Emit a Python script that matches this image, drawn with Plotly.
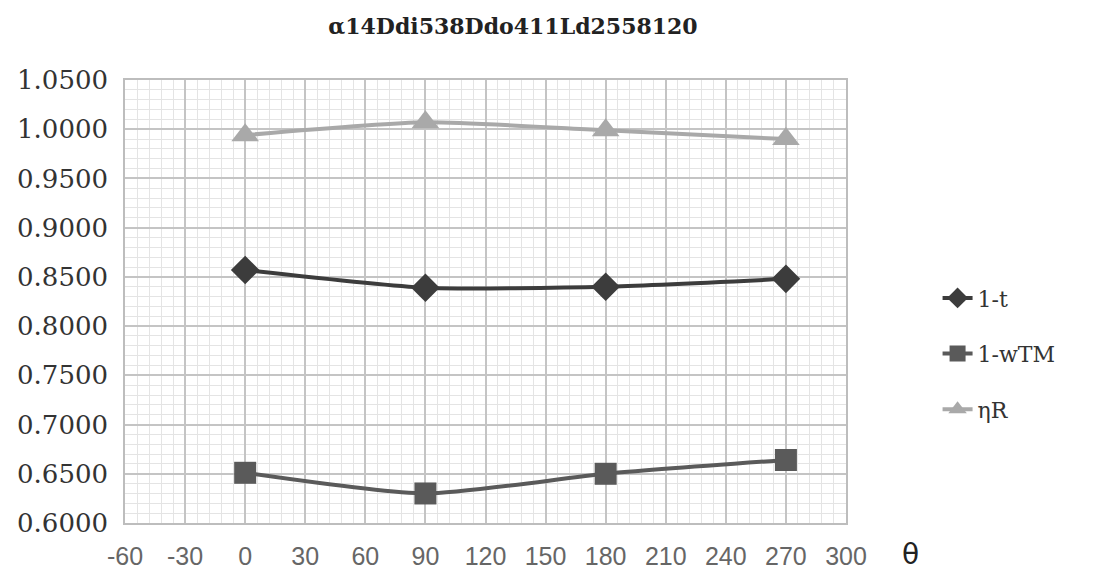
import plotly.graph_objects as go

theta = [0, 90, 180, 270]
one_minus_t = [0.857, 0.839, 0.840, 0.848]
one_minus_wtm = [0.651, 0.630, 0.650, 0.664]
eta_r = [0.994, 1.007, 0.999, 0.990]

series_names = ["1-t", "1-wTM", "ηR"]
x_ticks = list(range(-60, 301, 30))
y_ticks = [0.60, 0.65, 0.70, 0.75, 0.80, 0.85, 0.90, 0.95, 1.00, 1.05]
title_text = "α14Ddi538Ddo411Ld2558120"

fig = go.Figure()
styles = [
    (one_minus_t, "#3c3c3c", "diamond", 22),
    (one_minus_wtm, "#5a5a5a", "square", 22),
    (eta_r, "#a9a9a9", "triangle-up", 24),
]
for name, (vals, col, sym, sz) in zip(series_names, styles):
    fig.add_trace(go.Scatter(
        x=theta, y=vals, name=name, mode="lines+markers",
        line=dict(color=col, width=4, shape="spline", smoothing=0.6),
        marker=dict(symbol=sym, size=sz, color=col),
        legendgroup=name,
    ))

fig.update_layout(
    width=1087, height=570,
    margin=dict(l=117, r=249, t=72, b=55),
    paper_bgcolor="white", plot_bgcolor="white",
    title=dict(text="<b>" + title_text + "</b>", x=0.4646, xanchor="center", y=0.968, yanchor="middle",
               font=dict(family="DejaVu Serif, serif", size=22, color="#222")),
    showlegend=True,
    legend=dict(x=1.127, xanchor="left", y=0.555, yanchor="top",
                font=dict(family="DejaVu Serif, serif", size=22, color="#333"),
                tracegroupgap=24, bgcolor="rgba(0,0,0,0)"),
    annotations=[dict(text="θ", xref="paper", yref="paper", x=1.09, y=-0.072,
                      xanchor="center", yanchor="middle", showarrow=False,
                      font=dict(family="DejaVu Sans", size=28, color="#222"))],
)
fig.update_xaxes(
    range=[-60, 300], tickvals=x_ticks, ticktext=[str(v) for v in x_ticks],
    showgrid=True, gridcolor="#c4c4c4", gridwidth=1.5,
    minor=dict(dtick=6, showgrid=True, gridcolor="#e4e4e4", gridwidth=1),
    showline=True, linecolor="#bdbdbd", linewidth=1.5, mirror=True,
    ticks="outside", ticklen=10, tickcolor="rgba(0,0,0,0)",
    tickfont=dict(family="Liberation Sans", size=25, color="#666"),
    zeroline=False, automargin=False,
)
fig.update_yaxes(
    range=[0.6, 1.05], tickvals=y_ticks, ticktext=[f"{v:.4f}" for v in y_ticks],
    showgrid=True, gridcolor="#c4c4c4", gridwidth=1.5,
    minor=dict(dtick=0.01, showgrid=True, gridcolor="#e4e4e4", gridwidth=1),
    showline=True, linecolor="#bdbdbd", linewidth=1.5, mirror=True,
    ticks="outside", ticklen=10, tickcolor="rgba(0,0,0,0)",
    tickfont=dict(family="DejaVu Serif, serif", size=26, color="#333"),
    zeroline=False, automargin=False,
)
fig.write_html("out.html")
